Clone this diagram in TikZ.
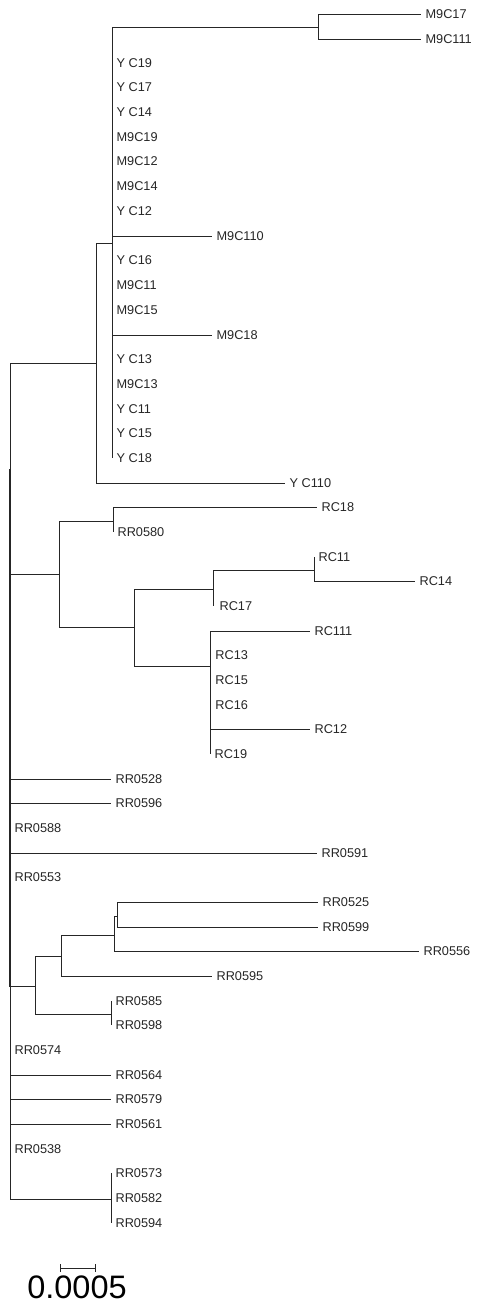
\documentclass[tikz,border=0pt]{standalone}
\usepackage{fontspec}
\setmainfont{Liberation Sans}
\usetikzlibrary{arrows.meta}

\begin{document}
\begin{tikzpicture}[x = 0.02cm, y = -0.02cm,
        leaf/.style = {anchor = west, inner xsep = 2.4pt, inner ysep = 0pt,
            text = black!85, font = \fontsize{7.25}{8}\selectfont},
        branch/.style = {black!85, line width = 0.55pt}]

            \useasboundingbox (0, 0) rectangle (477, 1306);

            % internal nodes of the tree
            \coordinate (root) at (10, 469);
            \coordinate (inner) at (9.2, 469);
            \coordinate (yclade) at (96, 363);
            \coordinate (ysub) at (112, 243);
            \coordinate (m9pair) at (318, 27);
            \coordinate (rclade) at (59, 574);
            \coordinate (rcpair) at (113, 521);
            \coordinate (rcbig) at (134, 627);
            \coordinate (rca) at (213, 589);
            \coordinate (rcapair) at (314, 570);
            \coordinate (rcb) at (210, 666);
            \coordinate (rcc) at (210.8, 680);
            \coordinate (rrclade) at (35, 986);
            \coordinate (rrb) at (61, 956);
            \coordinate (rrc) at (114, 935);
            \coordinate (rrd) at (117, 916);
            \coordinate (rrpair) at (111, 1014);
            \coordinate (rrtail) at (111, 1199);

            % leaves, top to bottom
            \node [leaf] (m9c17) at (421, 14) {M9C17};
            \node [leaf] (m9c111) at (421, 39) {M9C111};
            \node [leaf] (yc19) at (112, 63) {Y C19};
            \node [leaf] (yc17) at (112, 87) {Y C17};
            \node [leaf] (yc14) at (112, 112) {Y C14};
            \node [leaf] (m9c19) at (112, 137) {M9C19};
            \node [leaf] (m9c12) at (112, 161) {M9C12};
            \node [leaf] (m9c14) at (112, 186) {M9C14};
            \node [leaf] (yc12) at (112, 211) {Y C12};
            \node [leaf] (m9c110) at (212, 236) {M9C110};
            \node [leaf] (yc16) at (112, 260) {Y C16};
            \node [leaf] (m9c11) at (112, 285) {M9C11};
            \node [leaf] (m9c15) at (112, 310) {M9C15};
            \node [leaf] (m9c18) at (212, 335) {M9C18};
            \node [leaf] (yc13) at (112, 359) {Y C13};
            \node [leaf] (m9c13) at (112, 384) {M9C13};
            \node [leaf] (yc11) at (112, 409) {Y C11};
            \node [leaf] (yc15) at (112, 433) {Y C15};
            \node [leaf] (yc18) at (112, 458) {Y C18};
            \node [leaf] (yc110) at (285, 483) {Y C110};

            \node [leaf] (rc18) at (317, 507) {RC18};
            \node [leaf] (rr0580) at (113, 532) {RR0580};
            \node [leaf] (rc11) at (314, 557) {RC11};
            \node [leaf] (rc14) at (415, 581) {RC14};
            \node [leaf] (rc17) at (215, 606) {RC17};
            \node [leaf] (rc111) at (310, 631) {RC111};
            \node [leaf] (rc13) at (210.8, 655) {RC13};
            \node [leaf] (rc15) at (210.8, 680) {RC15};
            \node [leaf] (rc16) at (210.8, 705) {RC16};
            \node [leaf] (rc12) at (310, 729) {RC12};
            \node [leaf] (rc19) at (210, 754) {RC19};

            \node [leaf] (rr0528) at (111, 779) {RR0528};
            \node [leaf] (rr0596) at (111, 803) {RR0596};
            \node [leaf] (rr0588) at (10, 828) {RR0588};
            \node [leaf] (rr0591) at (317, 853) {RR0591};
            \node [leaf] (rr0553) at (10, 877) {RR0553};
            \node [leaf] (rr0525) at (318, 902) {RR0525};
            \node [leaf] (rr0599) at (318, 927) {RR0599};
            \node [leaf] (rr0556) at (419, 951) {RR0556};
            \node [leaf] (rr0595) at (212, 976) {RR0595};
            \node [leaf] (rr0585) at (111, 1001) {RR0585};
            \node [leaf] (rr0598) at (111, 1025) {RR0598};
            \node [leaf] (rr0574) at (10, 1050) {RR0574};
            \node [leaf] (rr0564) at (111, 1075) {RR0564};
            \node [leaf] (rr0579) at (111, 1099) {RR0579};
            \node [leaf] (rr0561) at (111, 1124) {RR0561};
            \node [leaf] (rr0538) at (10, 1149) {RR0538};
            \node [leaf] (rr0573) at (111, 1173) {RR0573};
            \node [leaf] (rr0582) at (111, 1198) {RR0582};
            \node [leaf] (rr0594) at (111, 1223) {RR0594};

            % branches: vertical at the parent, then across to the child
            \foreach \kid in {yclade, inner, rrtail}
                \draw [branch] (root) |- (\kid);
            \foreach \kid in {rr0528, rr0596, rr0588, rr0591, rr0553, rr0574, rr0564, rr0579, rr0561, rr0538}
                \draw [branch] (root) |- (\kid.west);
            \draw [branch] (inner) |- (rclade);
            \draw [branch] (inner) |- (rrclade);

            \draw [branch] (yclade) |- (ysub);
            \draw [branch] (yclade) |- (yc110.west);
            \draw [branch] (ysub) |- (m9pair);
            \foreach \kid in {yc19, yc17, yc14, m9c19, m9c12, m9c14, yc12, m9c110, yc16, m9c11, m9c15, m9c18, yc13, m9c13, yc11, yc15, yc18}
                \draw [branch] (ysub) |- (\kid.west);
            \draw [branch] (m9pair) |- (m9c17.west);
            \draw [branch] (m9pair) |- (m9c111.west);

            \draw [branch] (rclade) |- (rcpair);
            \draw [branch] (rclade) |- (rcbig);
            \draw [branch] (rcpair) |- (rc18.west);
            \draw [branch] (rcpair) |- (rr0580.west);
            \draw [branch] (rcbig) |- (rca);
            \draw [branch] (rcbig) |- (rcb);
            \draw [branch] (rca) |- (rcapair);
            \draw [branch] (rca) |- (rc17.west -| rca);
            \draw [branch] (rcapair) |- (rc11.west);
            \draw [branch] (rcapair) |- (rc14.west);
            \foreach \kid in {rc111, rc12, rc19}
                \draw [branch] (rcb) |- (\kid.west);
            \draw [branch] (rcb) |- (rcc);
            \foreach \kid in {rc13, rc15, rc16}
                \draw [branch] (rcc) |- (\kid.west);

            \draw [branch] (rrclade) |- (rrb);
            \draw [branch] (rrclade) |- (rrpair);
            \draw [branch] (rrb) |- (rrc);
            \draw [branch] (rrb) |- (rr0595.west);
            \draw [branch] (rrc) |- (rrd);
            \draw [branch] (rrc) |- (rr0556.west);
            \draw [branch] (rrd) |- (rr0525.west);
            \draw [branch] (rrd) |- (rr0599.west);
            \draw [branch] (rrpair) |- (rr0585.west);
            \draw [branch] (rrpair) |- (rr0598.west);
            \foreach \kid in {rr0573, rr0582, rr0594}
                \draw [branch] (rrtail) |- (\kid.west);

            % scale bar
            \coordinate (bar1) at (60, 1268);
            \coordinate (bar2) at (96, 1268);
            \draw [branch, {Bar[width = 0.16cm]}-{Bar[width = 0.16cm]}] (bar1) -- (bar2);
            \node [anchor = base, inner sep = 0pt, font = \fontsize{18.5}{20}\selectfont] (scale) at (77, 1298) {0.0005};
        \end{tikzpicture}
\end{document}
